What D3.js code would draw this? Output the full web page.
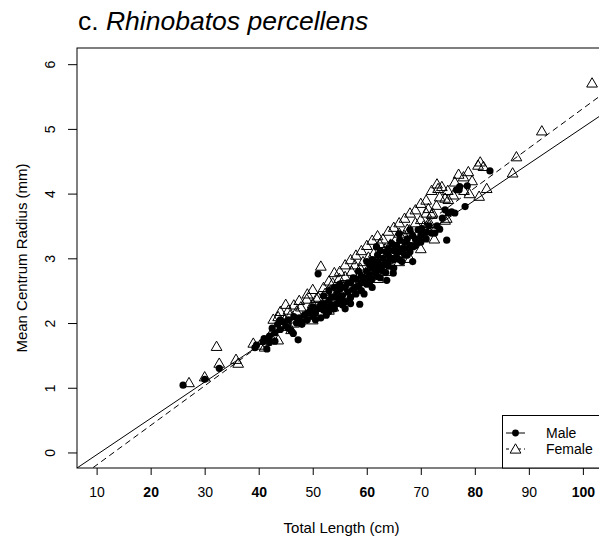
<!DOCTYPE html>
<html><head><meta charset="utf-8">
<script src="https://cdn.jsdelivr.net/npm/d3@7/dist/d3.min.js"></script>
<style>body{margin:0;background:#fff}svg{display:block;font-family:"Liberation Sans",Arial,sans-serif}</style>
</head><body><svg id="c" width="599" height="543"></svg>
<script>
const maleTL = [26,30,32.7,39.3,39.6,40.8,41.5,42,42.5,43,43.5,44,44.5,45,45.5,46,46.4,47.3,47,47.5,48,48.5,49,49.5,50,50,50.5,51,51,51.5,52,52,52.5,53,53,53.5,54,54,54.5,55,55,55.5,56,56,56.5,56.9,57,57.5,58,58,58.5,58.7,59,59,59.5,60,60,60.5,60.5,61,61,61.5,61.8,62,62,62.5,63,63,63.5,63.7,64,64,64.6,64.9,65,65,65.5,66,66.1,66.5,67,67,67.5,68,68,68.6,69,69.5,70,70.2,71,72,72.6,73,74.5,74.8,75.1,75.7,76.3,76.6,77.1,77.2,78.2,78.6,82.8,
  48,49,50.5,51.5,52.5,53.5,54.5,55.5,56.5,57,57.5,58,58.5,59,59.5,60,60,60.5,61,61,61.5,62,62,62.5,63,63.5,63.5,64,64.5,65,65.5,66,66.5,67,67.5,68,68.5,69,70,70.5,71,71.5,73.5,74,45.5,46.5,44,43,42,41,56,57,62.5,64,54,55,52,53,66,68.5];
const maleCR = [1.04,1.13,1.30,1.62,1.66,1.71,1.60,1.80,1.92,1.85,1.98,1.90,2.02,1.95,2.05,1.88,1.84,1.74,2.00,2.08,1.98,2.12,2.05,2.18,2.10,2.25,2.15,2.22,2.76,2.08,2.20,2.30,2.25,2.35,2.18,2.28,2.40,2.22,2.45,2.35,2.52,2.42,2.33,2.55,2.48,2.38,2.62,2.52,2.45,2.68,2.58,2.29,2.72,2.50,2.65,2.80,2.60,2.75,2.90,2.68,2.85,2.78,3.18,2.95,2.72,2.88,3.00,2.80,2.92,2.66,3.05,2.88,3.23,2.77,2.98,3.12,3.02,3.10,3.28,2.95,3.15,3.25,3.05,3.20,3.44,3.18,3.30,3.44,3.35,3.46,3.40,3.39,3.39,3.50,3.75,3.28,3.70,3.72,3.70,4.06,4.06,4.11,3.80,4.12,4.35,
  2.02,2.15,2.05,2.28,2.12,2.40,2.30,2.28,2.62,2.40,2.70,2.55,2.80,2.62,2.45,2.70,2.95,2.62,2.98,2.55,2.90,2.82,3.05,2.70,2.90,3.10,2.78,2.95,3.00,2.85,3.20,2.98,3.15,3.05,3.30,3.10,3.35,3.20,3.25,3.40,3.30,3.50,3.45,3.62,1.92,2.10,2.05,1.72,1.70,1.76,2.22,2.30,3.12,3.15,2.55,2.60,2.42,2.50,3.38,2.95];
const femaleTL = [27.1,30,32.2,32.7,35.8,36.2,39,40.2,41.1,42.1,43.6,42.7,43.6,44.2,44.8,45,45.8,46.5,47,47.8,48.2,48.9,49.5,50,50.7,51.2,51.5,52.3,52.8,53.3,53.7,53.8,54.3,54.9,55.5,56,56.5,57.2,57.8,58.3,58.8,59.3,59.8,60.3,60.8,61.3,61.8,62.1,62.4,62.9,63.4,63.9,64.4,64.9,65.4,66,66.5,67,67.5,67.9,68,68.5,69,69.5,70,70.5,71,71.4,71.4,71.7,72,72.2,72.9,73.2,73.5,73.9,74.5,74.5,74.8,75.1,76.3,77.9,78.8,79.0,80.6,80.8,81.0,81.6,82.2,87.0,87.7,92.4,101.7,
  44,45.5,46.5,47.5,49,50,51,52,53,54,55,56,57,58,59,60,61,62,63,64,65,66,67,68,69,70,71,72,73,75,76,77,78,79.5,46,48,50,53,58,64,66,70,72.5];
const femaleCR = [1.08,1.17,1.64,1.38,1.44,1.38,1.69,1.66,1.63,1.81,1.74,2.06,2.10,1.95,2.05,2.29,2.12,2.00,2.18,2.25,2.10,2.37,2.20,2.30,2.38,2.25,2.88,2.46,2.32,2.50,2.62,2.25,2.45,2.69,2.58,2.72,2.50,2.80,2.90,2.70,2.85,2.95,2.78,3.02,2.88,3.08,2.95,2.69,3.23,3.05,3.15,2.98,3.22,3.10,3.30,3.39,3.20,3.35,3.45,3.44,3.00,3.30,3.55,3.40,3.60,3.50,3.70,3.77,3.54,3.54,3.68,3.70,3.82,4.08,3.95,4.11,3.93,3.59,3.62,3.91,4.18,4.26,4.34,4.00,4.44,3.96,4.49,4.42,4.08,4.32,4.57,4.97,5.71,
  2.18,2.20,2.28,2.35,2.45,2.52,2.40,2.55,2.65,2.78,2.80,2.90,2.98,3.05,3.12,3.20,3.28,3.35,3.30,3.42,3.48,3.55,3.62,3.70,3.75,3.85,3.90,4.05,4.15,4.05,3.98,4.30,4.05,4.20,1.90,2.05,2.05,2.20,2.55,2.80,2.95,3.15,3.30];
const xTicks = [10,20,30,40,50,60,70,80,90,100];
const yTicks = [0,1,2,3,4,5,6];
const fitNames = ["Male","Female"];
const fitIntercept = [-0.598,-0.806];
const fitSlope = [0.0562,0.0612];

const svg = d3.select("#c");
const L=77,R=606,T=48,B=468;
const x = d3.scaleLinear().domain([6.37,104.28]).range([L,R]);
const y = d3.scaleLinear().domain([-0.24,6.25]).range([B,T]);

svg.append("defs").append("clipPath").attr("id","pc").append("rect")
  .attr("x",L).attr("y",T).attr("width",R-L).attr("height",B-T);

// title
const t = svg.append("text").attr("x",78).attr("y",30).attr("font-size",26.5).attr("fill","#000");
t.append("tspan").text("c. ");
t.append("tspan").attr("font-style","italic").text("Rhinobatos percellens");

// axes
const xa = svg.append("g").attr("transform",`translate(0,${B})`)
  .call(d3.axisBottom(x).tickValues(xTicks).tickSize(7).tickPadding(12).tickFormat(d3.format("d")));
xa.select(".domain").remove();
xa.selectAll("text").attr("font-size",14).attr("font-family","Liberation Sans, Arial, sans-serif")
  .attr("font-weight",d=>d%20===0?"bold":"normal").attr("fill","#000");
xa.selectAll("line").attr("stroke","#000");

const ya = svg.append("g").attr("transform",`translate(${L},0)`)
  .call(d3.axisLeft(y).tickValues(yTicks).tickSize(9).tickFormat(d3.format("d")));
ya.select(".domain").remove();
ya.selectAll("line").attr("stroke","#000");
ya.selectAll("text").attr("font-size",14).attr("font-family","Liberation Sans, Arial, sans-serif")
  .attr("fill","#000").attr("text-anchor","middle").attr("x",null)
  .attr("transform","translate(-27,0) rotate(-90)").attr("dy","0.35em");

svg.append("text").attr("x",(L+R)/2).attr("y",533).attr("text-anchor","middle").attr("font-size",15).text("Total Length (cm)");
svg.append("text").attr("transform",`translate(27,${(T+B)/2}) rotate(-90)`).attr("text-anchor","middle").attr("font-size",15).text("Mean Centrum Radius (mm)");

const plot = svg.append("g").attr("clip-path","url(#pc)");
// fit lines
const dashes = [null,"6,4"];
fitNames.forEach((n,i)=>{
  const x0=x.domain()[0], x1=x.domain()[1];
  plot.append("line").attr("x1",x(x0)).attr("y1",y(fitIntercept[i]+fitSlope[i]*x0))
    .attr("x2",x(x1)).attr("y2",y(fitIntercept[i]+fitSlope[i]*x1))
    .attr("stroke","#000").attr("stroke-width",1).attr("stroke-dasharray",dashes[i]);
});

const tri = d3.symbol().type(d3.symbolTriangle).size(50);
const male = maleTL.map((v,i)=>[v,maleCR[i]]);
const female = femaleTL.map((v,i)=>[v,femaleCR[i]]);
plot.selectAll(".m").data(male).enter().append("circle")
  .attr("cx",d=>x(d[0])).attr("cy",d=>y(d[1])).attr("r",3.6).attr("fill","#000");
plot.selectAll(".f").data(female).enter().append("path")
  .attr("d",tri).attr("transform",d=>`translate(${x(d[0])},${y(d[1])+1})`)
  .attr("fill","none").attr("stroke","#000").attr("stroke-width",1);

// box
svg.append("rect").attr("x",L).attr("y",T).attr("width",R-L).attr("height",B-T).attr("fill","none").attr("stroke","#000").attr("stroke-width",1);

// legend
const lg = svg.append("g");
lg.append("rect").attr("x",502.5).attr("y",415.5).attr("width",R-502.5).attr("height",B-415.5).attr("fill","#fff").attr("stroke","#000");
fitNames.forEach((n,i)=>{
  const yy = 433 + i*16;
  lg.append("line").attr("x1",506).attr("x2",525).attr("y1",yy).attr("y2",yy).attr("stroke","#000").attr("stroke-dasharray",dashes[i]?"3,3":null);
  if(i===0) lg.append("circle").attr("cx",515.5).attr("cy",yy).attr("r",3.4).attr("fill","#000");
  else lg.append("path").attr("d",tri).attr("transform",`translate(515.5,${yy+1})`).attr("fill","#fff").attr("stroke","#000");
  lg.append("text").attr("x",546).attr("y",yy+5).attr("font-size",14).text(n);
});
</script></body></html>
